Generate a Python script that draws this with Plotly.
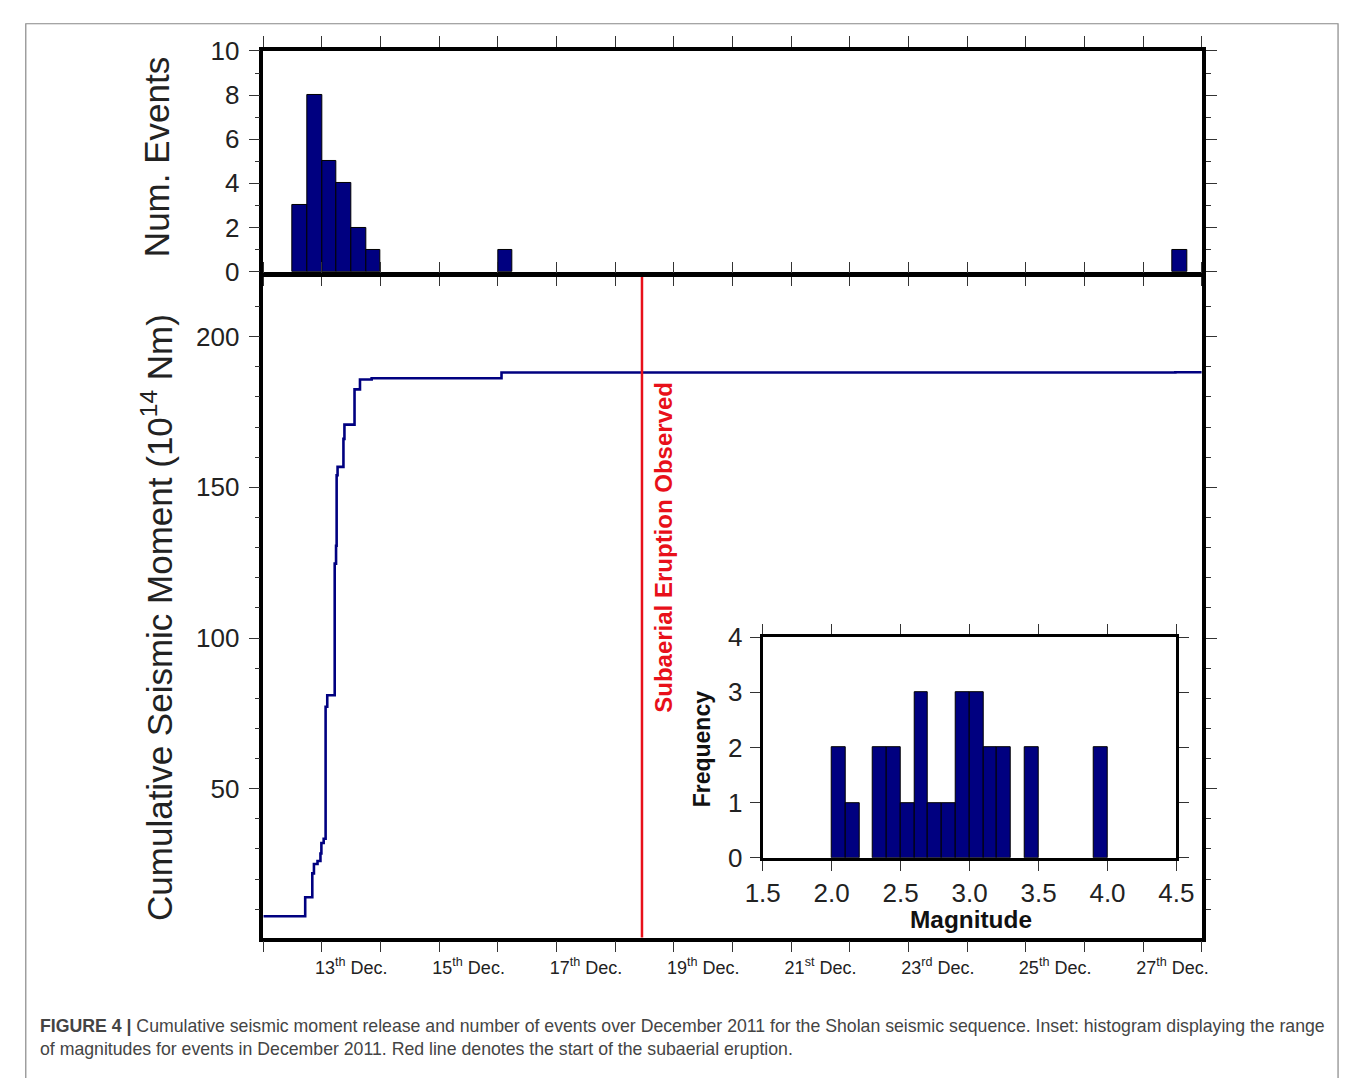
import plotly.graph_objects as go

# ---------------- data ----------------
# Top panel: number of events in 6-hour bins (day of December 2011)
hist_bin_start = [12.5, 12.75, 13.0, 13.25, 13.5, 13.75, 16.0, 27.5]
hist_counts = [3, 8, 5, 4, 2, 1, 1, 1]
hist_bin_width = 0.25

# Bottom panel: cumulative seismic moment (10^14 Nm) vs day of December
moment_day = [12.0, 12.714, 12.835, 12.863, 12.924, 12.974, 12.99, 13.029,
              13.062, 13.090, 13.217, 13.240, 13.250, 13.266, 13.366, 13.383,
              13.555, 13.648, 13.847, 16.061, 27.55, 28.0]
moment_cum = [7.7, 14.0, 21.9, 25.0, 26.0, 28.5, 32.0, 33.4,
              77.2, 81.0, 124.7, 130.6, 154.0, 156.8, 166.1, 170.8,
              182.5, 185.8, 186.2, 188.1, 188.2, 188.2]

eruption_day = 18.456

# Inset: magnitude histogram
mag_bin_left = [2.0, 2.1, 2.3, 2.4, 2.5, 2.6, 2.7, 2.8, 2.9, 3.0, 3.1, 3.2, 3.4, 3.9]
mag_counts = [2, 1, 2, 2, 1, 3, 1, 1, 3, 3, 2, 2, 2, 2]
mag_bin_width = 0.1

label_days = [13, 15, 17, 19, 21, 23, 25, 27]
label_suffix = ["th", "th", "th", "th", "st", "rd", "th", "th"]

caption_line1 = ("<b>FIGURE 4 |</b> Cumulative seismic moment release and number of events over "
                 "December 2011 for the Sholan seismic sequence. Inset: histogram displaying the range")
caption_line2 = ("of magnitudes for events in December 2011. Red line denotes the start of the "
                 "subaerial eruption.")

# ---------------- layout helpers ----------------
W, H = 1358, 1078
FONT = "Liberation Sans, Arial, Helvetica, sans-serif"
NAVY = "#000080"


def fx(p):
    return p / W


def fy(p):
    return 1 - p / H


fig = go.Figure()

fig.add_trace(go.Bar(
    x=hist_bin_start, y=hist_counts, width=hist_bin_width, offset=0,
    marker=dict(color=NAVY, line=dict(color="black", width=1)),
    xaxis="x", yaxis="y", showlegend=False))

fig.add_trace(go.Scatter(
    x=moment_day, y=moment_cum, mode="lines", line_shape="hv",
    line=dict(color=NAVY, width=2.6), xaxis="x2", yaxis="y2", showlegend=False))

fig.add_trace(go.Bar(
    x=mag_bin_left, y=mag_counts, width=mag_bin_width, offset=0,
    marker=dict(color=NAVY, line=dict(color="black", width=1)),
    xaxis="x3", yaxis="y3", showlegend=False))

frame = dict(showline=True, linewidth=3.5, linecolor="black", mirror="allticks",
             showgrid=False, zeroline=False, tickcolor="#333", tickwidth=1.2,
             tickfont=dict(family=FONT, size=26, color="#222"))

fig.update_layout(
    width=W, height=H, margin=dict(l=0, r=0, t=0, b=0),
    paper_bgcolor="white", plot_bgcolor="white",
    font=dict(family=FONT, color="#222"),
    bargap=0,
    xaxis=dict(frame, domain=[fx(252), fx(1216)], anchor="y", range=[12, 28],
               tickmode="linear", tick0=12, dtick=1, ticks="outside", ticklen=11,
               showticklabels=False),
    yaxis=dict(frame, domain=[fy(264), fy(37)], anchor="x", range=[0, 10],
               tickmode="linear", tick0=0, dtick=2, ticks="outside", ticklen=11,
               ticklabelstandoff=4,
               minor=dict(ticks="outside", tick0=0, dtick=1, ticklen=5,
                          tickcolor="#333", tickwidth=1.2)),
    xaxis2=dict(frame, domain=[fx(252), fx(1216)], anchor="y2", range=[12, 28],
                tickmode="array", tickvals=[d + 0.5 for d in label_days],
                ticktext=[f"{d}<sup>{s}</sup> Dec." for d, s in zip(label_days, label_suffix)],
                ticks="outside", ticklen=0, ticklabelstandoff=11,
                tickfont=dict(family=FONT, size=18, color="#222"),
                minor=dict(ticks="outside", tickmode="linear", tick0=12, dtick=1,
                           ticklen=11, tickcolor="#333", tickwidth=1.2)),
    yaxis2=dict(frame, domain=[fy(949), fy(269.5)], anchor="x2", range=[0.6, 219.8],
                tickmode="array", tickvals=[50, 100, 150, 200], ticks="outside",
                ticklen=11, ticklabelstandoff=4,
                minor=dict(ticks="outside", tickmode="linear", tick0=0, dtick=10,
                           ticklen=5, tickcolor="#333", tickwidth=1.2)),
    xaxis3=dict(frame, domain=[fx(765), fx(1190)], anchor="y3", range=[1.5, 4.5],
                tickmode="linear", tick0=1.5, dtick=0.5, tickformat=".1f",
                ticks="outside", ticklen=10, ticklabelstandoff=0, linewidth=3),
    yaxis3=dict(frame, domain=[fy(867), fy(640)], anchor="x3", range=[0, 4],
                tickmode="linear", tick0=0, dtick=1, ticks="outside", ticklen=10,
                ticklabelstandoff=2, linewidth=3),
)

# eruption line
fig.add_shape(type="line", xref="x2", yref="y2 domain", x0=eruption_day, x1=eruption_day,
              y0=0, y1=1, line=dict(color="#e8101a", width=2.5))

# outer figure frame
fig.add_shape(type="rect", xref="paper", yref="paper", x0=fx(8), x1=fx(1356),
              y0=-0.02, y1=fy(9), line=dict(color="#888", width=1.2), layer="below")

ann = []
ann.append(dict(text="Num. Events", xref="paper", yref="paper", x=fx(143), y=fy(146),
                xanchor="center", yanchor="middle",
                textangle=-90, showarrow=False, font=dict(family=FONT, size=35, color="#222")))
ann.append(dict(text="Cumulative Seismic Moment (10<sup>14</sup> Nm)", xref="paper", yref="paper",
                x=fx(143), y=fy(620), xanchor="center", yanchor="middle", textangle=-90,
                showarrow=False, font=dict(family=FONT, size=35, color="#222")))
ann.append(dict(text="<b>Subaerial Eruption Observed</b>", xref="x2", yref="paper",
                x=eruption_day, xshift=22, y=fy(547), xanchor="center", yanchor="middle",
                textangle=-90, showarrow=False,
                font=dict(family=FONT, size=24, color="#e8101a")))
ann.append(dict(text="<b>Frequency</b>", xref="paper", yref="paper", x=fx(703), y=fy(755),
                xanchor="center", yanchor="middle",
                textangle=-90, showarrow=False, font=dict(family=FONT, size=23, color="#111")))
ann.append(dict(text="<b>Magnitude</b>", xref="paper", yref="paper", x=fx(979), y=fy(930),
                xanchor="center", yanchor="middle",
                showarrow=False, font=dict(family=FONT, size=24.4, color="#111")))
ann.append(dict(text=caption_line1 + "<br>" + caption_line2, xref="paper", yref="paper",
                x=fx(21), y=fy(1052), xanchor="left", yanchor="middle", align="left",
                showarrow=False, font=dict(family=FONT, size=17.7, color="#444")))
fig.update_layout(annotations=ann)

fig.write_html("out.html", config={"displayModeBar": False},
               post_script="document.body.style.margin='0';document.body.style.overflow='hidden';")
